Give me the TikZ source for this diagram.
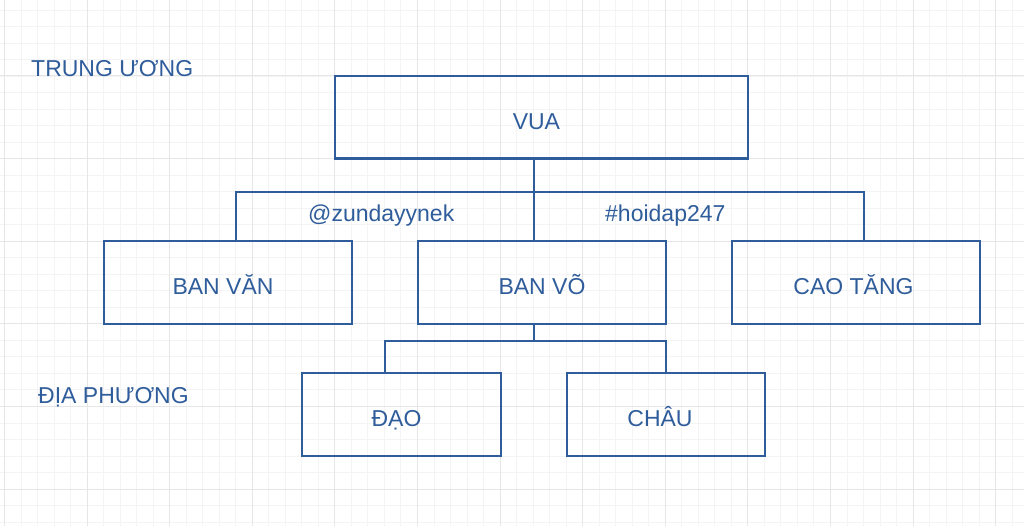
\documentclass[tikz,border=0pt]{standalone}
\usepackage{fontspec}
\setmainfont{Liberation Sans}
\definecolor{dblue}{HTML}{2F5D9B}
\definecolor{gminor}{HTML}{F4F4F4}
\definecolor{gmajor}{HTML}{E6E6E6}
\begin{document}
\begin{tikzpicture}[x=1pt,y=-1pt,
  box/.style={draw=dblue,line width=2.2pt,rectangle,inner sep=0pt,
    text=dblue,font=\fontsize{23}{26}\selectfont,text height=23.5pt,text depth=0pt},
  conn/.style={draw=dblue,line width=2.2pt},
  lbl/.style={text=dblue,font=\fontsize{23}{26}\selectfont,inner sep=0pt,anchor=base west},
  gmin/.style={draw=gminor,line width=0.8pt},
  gmaj/.style={draw=gmajor,line width=1pt}]
\useasboundingbox (0,0) rectangle (1024,526);
\fill[white] (0,0) rectangle (1024,526);
% grid
\foreach \i in {0,...,61} {
  \pgfmathsetmacro{\xx}{4.4+\i*16.52}
  \draw[gmin] (\xx,0) -- (\xx,526);
}
\foreach \i in {-5,...,27} {
  \pgfmathsetmacro{\yy}{76+\i*16.52}
  \draw[gmin] (0,\yy) -- (1024,\yy);
}
\foreach \i in {0,...,12} {
  \pgfmathsetmacro{\xx}{4.4+\i*82.6}
  \draw[gmaj] (\xx,0) -- (\xx,526);
}
\foreach \i in {-1,...,5} {
  \pgfmathsetmacro{\yy}{76+\i*82.6}
  \draw[gmaj] (0,\yy) -- (1024,\yy);
}
% boxes
\node[box,minimum width=413pt,minimum height=82.6pt] (vua) at (541.4,117.3) {\hspace*{-10pt}VUA};
\node[box,minimum width=248pt,minimum height=83pt] (banvan) at (228,282.5) {\hspace*{-10pt}BAN VĂN};
\node[box,minimum width=248pt,minimum height=83pt] (banvo) at (542,282.5) {BAN VÕ};
\node[box,minimum width=248pt,minimum height=83pt] (caotang) at (856,282.5) {\hspace*{-5pt}CAO TĂNG};
\node[box,minimum width=199pt,minimum height=83pt] (dao) at (401.5,414.5) {\hspace*{-10pt}ĐẠO};
\node[box,minimum width=198pt,minimum height=83pt] (chau) at (666,414.5) {\hspace*{-12pt}CHÂU};
% junctions
\coordinate (j1) at (534,191.7);
\coordinate (cl) at (236,191.7);
\coordinate (cr) at (864,191.7);
\coordinate (j2) at (534,340.7);
\coordinate (dl) at (385,340.7);
\coordinate (dr) at (666,340.7);
% connectors
\draw[conn] (vua.south -| j1) -- (banvo.north -| j1);
\draw[conn] (banvan.north -| cl) -- (cl) -- (cr) -- (caotang.north -| cr);
\draw[conn] (banvo.south -| j2) -- (j2);
\draw[conn] (dao.north -| dl) -- (dl) -- (dr) -- (chau.north -| dr);
% labels
\node[lbl] (tw) at (31,77) {TRUNG ƯƠNG};
\node[lbl] (dp) at (38,403) {ĐỊA PHƯƠNG};
\node[lbl] (zu) at (308,221.5) {@zundayynek};
\node[lbl] (hd) at (605,221.5) {\#hoidap247};
\end{tikzpicture}
\end{document}
